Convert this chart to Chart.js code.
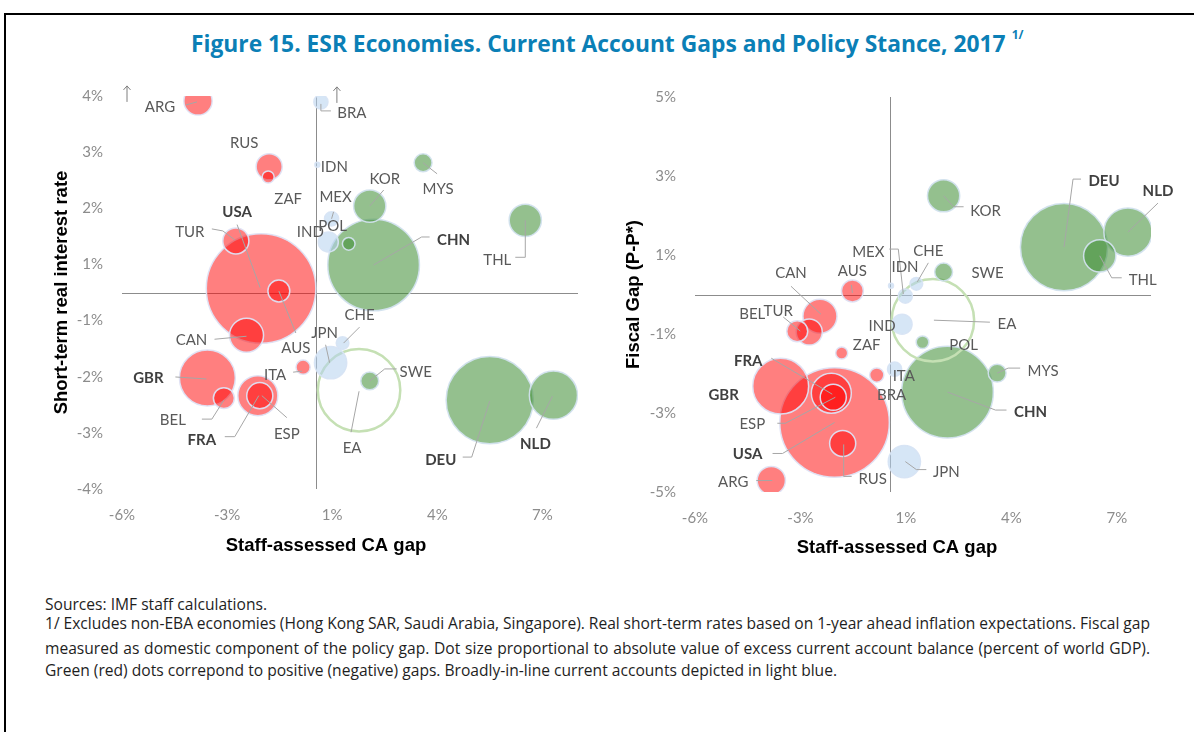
<!DOCTYPE html>
<html>
<head>
<meta charset="utf-8">
<script src="https://cdn.jsdelivr.net/npm/chart.js@4.4.0/dist/chart.umd.min.js"></script>
<style>
  body { margin: 0; background: #fff; width: 1194px; height: 732px; overflow: hidden; position: relative; }
  #frame { position: absolute; left: 4px; top: 13px; width: 1300px; height: 800px; border-left: 2px solid #000; border-top: 2px solid #000; }
  #title { position: absolute; left: 191px; top: 28px; font-family: 'Open Sans', sans-serif; font-weight: bold; font-size: 22.8px; color: #0b7fb6; white-space: nowrap; }
  #title sup { font-size: 12px; position: relative; top: -4px; margin-left: 6px; }
  .wrap { position: absolute; }
  .note { position: absolute; left: 45px; width: 1105px; font-family: 'Open Sans', sans-serif; font-size: 15.6px; color: #1e1e1e; white-space: nowrap; }
  .just { text-align: justify; text-align-last: justify; white-space: normal; word-spacing: -2px; }
</style>
</head>
<body>
<div id="frame"></div>
<div id="title">Figure 15. ESR Economies. Current Account Gaps and Policy Stance, 2017<sup>1/</sup></div>
<div class="wrap" style="left:0;top:60px;width:600px;height:520px"><canvas id="rateChart"></canvas></div>
<div class="wrap" style="left:600px;top:60px;width:594px;height:520px"><canvas id="fiscalChart"></canvas></div>
<div class="note" style="top:593px">Sources: IMF staff calculations.</div>
<div class="note just" style="top:612px">1/ Excludes non-EBA economies (Hong Kong SAR, Saudi Arabia, Singapore). Real short-term rates based on 1-year ahead inflation expectations. Fiscal gap</div>
<div class="note just" style="top:637px">measured as domestic component of the policy gap. Dot size proportional to absolute value of excess current account balance (percent of world GDP).</div>
<div class="note" style="top:659px">Green (red) dots correpond to positive (negative) gaps. Broadly-in-line current accounts depicted in light blue.</div>

<script>
// ---- data ----
const countries = ['ARG','AUS','BEL','BRA','CAN','CHE','CHN','DEU','EA','ESP','FRA','GBR','IDN','IND','ITA','JPN','KOR','MEX','MYS','NLD','POL','RUS','SWE','THL','TUR','USA','ZAF'];
// staff-assessed CA gap (% of GDP), shared x axis
const caGap = [-3.65,-1.15,-2.85,0.15,-2.15,0.82,1.78,5.37,1.33,-1.80,-1.74,-3.36,0.04,0.38,-0.40,0.45,1.66,0.48,3.31,7.34,1.01,-1.45,1.66,6.47,-2.48,-1.70,-1.48];
// short-term real interest rate (%)
const realRate = [3.90,0.03,-2.15,3.88,-0.87,-1.03,0.56,-2.19,-1.99,-2.10,-2.10,-1.74,2.60,1.03,-1.52,-1.43,1.76,1.50,2.64,-2.09,0.99,2.56,-1.80,1.47,1.05,0.08,2.35];
// fiscal gap, P-P* (%)
const fiscalGap = [-4.71,0.09,-0.93,-1.89,-0.55,0.27,-2.47,1.20,-0.65,-2.50,-2.60,-2.32,0.22,-0.75,-2.04,-4.23,2.50,-0.04,-1.99,1.58,-1.21,-3.77,0.57,0.98,-0.95,-3.24,-1.48];
// absolute excess current account balance (% of world GDP) -> dot size
const excessCA = [0.020,0.012,0.011,0.005,0.029,0.004,0.210,0.190,0.170,0.040,0.017,0.078,0.0006,0.010,0.005,0.026,0.026,0.005,0.008,0.058,0.004,0.017,0.008,0.026,0.017,0.300,0.0036];
// neg = red, pos = green, inline = light blue, area = euro area ring
const gapSign = ['neg','neg','neg','inline','neg','inline','pos','pos','area','neg','neg','neg','inline','inline','neg','inline','pos','inline','pos','pos','pos','neg','pos','pos','neg','neg','neg'];
const boldCodes = ['USA','CHN','GBR','FRA','DEU','NLD'];
const offScaleCodes = ['ARG','BRA']; // real rate above the 4% cut-off

const xTickValues = [-6, -2.75, 0.5, 3.75, 7];
const xTickLabels = ['-6%', '-3%', '1%', '4%', '7%'];
const rateTickValues = [-4, -2.857, -1.714, -0.571, 0.571, 1.714, 2.857, 4];
const rateTickLabels = ['-4%', '-3%', '-2%', '-1%', '1%', '2%', '3%', '4%'];
const fiscalTickValues = [-5, -3, -1, 1, 3, 5];
const fiscalTickLabels = ['-5%', '-3%', '-1%', '1%', '3%', '5%'];

// label placement, pixel offsets from the dot centre (text centre + leader polyline)
const rateLabels = {
  ARG: { at: [-38, 6], lead: [[-12, 4], [-1, 1]], arrow: [-71, -7] },
  BRA: { at: [31, 11], lead: [[0, 2], [0, 9], [10, 9]], arrow: [16, -7] },
  RUS: { at: [-25, -24] },
  ZAF: { at: [20, 22] },
  IDN: { at: [17, 2] },
  MEX: { at: [4, -22], lead: [[2, -7], [0, 0]] },
  POL: { at: [-16, -18] },
  IND: { at: [-18, -10] },
  KOR: { at: [15, -27], lead: [[0, 0], [14, -16]] },
  MYS: { at: [15, 26], lead: [[0, 0], [14, 11]] },
  CHN: { at: [80, -25], lead: [[0, 0], [48, -28], [56, -28]] },
  THL: { at: [-28, 40], lead: [[0, 0], [0, 37], [-10, 37]] },
  USA: { at: [-24, -76], lead: [[-24, -64], [-1, -1]] },
  TUR: { at: [-46, -9], lead: [[-24, -12], [-13, -10], [-1, -1]] },
  AUS: { at: [17, 57], lead: [[0, 0], [17, 42]] },
  CAN: { at: [-55, 5], lead: [[-32, 4], [0, 1]] },
  GBR: { at: [-59, 0], lead: [[-32, -1], [-1, 1]] },
  BEL: { at: [-51, 22], lead: [[-22, 21], [-12, 21], [0, 2]] },
  FRA: { at: [-58, 44], lead: [[-35, 41], [-25, 41], [-1, 0]] },
  ESP: { at: [29, 38], lead: [[4, 0], [29, 22]] },
  ITA: { at: [-28, 8], lead: [[-10, 5], [-1, 4]] },
  JPN: { at: [-6, -30], lead: [[-5, -18], [-1, 0]] },
  CHE: { at: [17, -28], lead: [[17, -16], [1, 0]] },
  EA:  { at: [-7, 58], lead: [[-8, 42], [0, 1]] },
  SWE: { at: [46, -9], lead: [[0, 0], [15, -12], [27, -12]] },
  DEU: { at: [-49, 60], lead: [[-27, 57], [-18, 57], [0, 1]] },
  NLD: { at: [-18, 49], lead: [[-17, 33], [-1, 1]] }
};
const fiscalLabels = {
  KOR: { at: [42, 15], lead: [[0, 0], [10, 11], [20, 11]] },
  DEU: { at: [40, -66], lead: [[0, 0], [9, -68], [17, -68]] },
  NLD: { at: [30, -41], lead: [[0, 0], [30, -29]] },
  THL: { at: [43, 24], lead: [[0, 0], [12, 22], [22, 22]] },
  SWE: { at: [44, 1] },
  CHE: { at: [12, -33], lead: [[12, -21], [1, -2]] },
  IDN: { at: [14, -19] },
  MEX: { at: [-37, -44], lead: [[-16, -47], [-7, -47], [-2, -2]] },
  EA:  { at: [74, 4], lead: [[1, 0], [57, 2]] },
  IND: { at: [-20, 2] },
  POL: { at: [41, 3] },
  MYS: { at: [46, -2], lead: [[0, 0], [11, -5], [23, -5]] },
  CHN: { at: [83, 20], lead: [[0, 0], [48, 18], [59, 18]] },
  JPN: { at: [42, 11], lead: [[1, 0], [12, 8], [22, 8]] },
  ITA: { at: [27, 1] },
  BRA: { at: [-3, 26] },
  ZAF: { at: [25, -8] },
  AUS: { at: [0, -20], lead: [[-1, -6], [0, 2]] },
  CAN: { at: [-29, -43], lead: [[-29, -30], [1, -2]] },
  BEL: { at: [-45, -17] },
  TUR: { at: [-31, -21], lead: [[-26, -15], [-9, -1]] },
  FRA: { at: [-85, -36], lead: [[-62, -39], [-1, -3]] },
  GBR: { at: [-57, 9] },
  ESP: { at: [-79, 31], lead: [[-54, 30], [-46, 30], [4, 4]] },
  USA: { at: [-87, 32], lead: [[-62, 31], [-52, 31], [0, 0]] },
  RUS: { at: [30, 36], lead: [[1, 1], [1, 33], [9, 33]] },
  ARG: { at: [-38, 2], lead: [[-15, 0], [1, 0]] }
};

const fillColors = { neg: 'rgba(255,0,0,0.5)', pos: 'rgba(60,140,50,0.55)', inline: 'rgba(180,210,238,0.55)', area: 'rgba(0,0,0,0)' };
const edgeColors = { neg: 'rgba(222,226,244,0.95)', pos: 'rgba(210,225,238,0.95)', inline: 'rgba(215,228,244,0.95)', area: '#c5e0b4' };

// zero lines under the dots, labels and leaders on top
const calloutPlugin = {
  id: 'callouts',
  beforeDatasetsDraw(chart) {
    const { ctx, chartArea, scales } = chart;
    const x0 = Math.round(scales.x.getPixelForValue(0)) + 0.5;
    const y0 = Math.round(scales.y.getPixelForValue(0)) + 0.5;
    ctx.save();
    ctx.strokeStyle = '#8c8c8c';
    ctx.lineWidth = 1;
    ctx.beginPath();
    ctx.moveTo(x0, chartArea.top);
    ctx.lineTo(x0, chartArea.bottom);
    ctx.moveTo(chartArea.left, y0);
    ctx.lineTo(chartArea.right, y0);
    ctx.stroke();
    ctx.restore();
  },
  afterDatasetsDraw(chart, args, opts) {
    const { ctx } = chart;
    const meta = chart.getDatasetMeta(0);
    ctx.save();
    meta.data.forEach((el, i) => {
      const code = chart.data.datasets[0].data[i].code;
      const plan = opts.plan[code];
      if (!plan) return;
      if (plan.lead) {
        ctx.strokeStyle = '#a6a6a6';
        ctx.lineWidth = 1;
        ctx.beginPath();
        plan.lead.forEach((p, k) => {
          if (k === 0) ctx.moveTo(el.x + p[0], el.y + p[1]);
          else ctx.lineTo(el.x + p[0], el.y + p[1]);
        });
        ctx.stroke();
      }
      if (plan.arrow && opts.showArrows && offScaleCodes.includes(code)) {
        const ax = el.x + plan.arrow[0], ay = el.y + plan.arrow[1];
        ctx.strokeStyle = '#7f7f7f';
        ctx.beginPath();
        ctx.moveTo(ax, ay + 8);
        ctx.lineTo(ax, ay - 8);
        ctx.moveTo(ax - 3.5, ay - 4);
        ctx.lineTo(ax, ay - 8);
        ctx.lineTo(ax + 3.5, ay - 4);
        ctx.stroke();
      }
      const bold = boldCodes.includes(code);
      ctx.font = (bold ? 'bold ' : '') + '15px Lato';
      ctx.fillStyle = bold ? '#404040' : '#595959';
      ctx.textAlign = 'center';
      ctx.textBaseline = 'middle';
      ctx.fillText(code, el.x + plan.at[0], el.y + plan.at[1]);
    });
    ctx.restore();
  },
  afterDraw(chart, args, opts) {
    const { ctx, chartArea } = chart;
    ctx.save();
    ctx.font = 'bold 18.5px "Liberation Sans"';
    ctx.fillStyle = '#000';
    ctx.textAlign = 'center';
    ctx.textBaseline = 'middle';
    ctx.fillText('Staff-assessed CA gap', chartArea.left + opts.captionDx, opts.captionY);
    ctx.restore();
  }
};

function buildChart(canvasId, yValues, yTickValues, yTickLabels, yTitle, yRange, xMax, box, plan, showArrows) {
  const points = countries.map((c, i) => ({
    x: caGap[i], y: yValues[i], r: 100 * Math.sqrt(excessCA[i]), code: c, kind: gapSign[i]
  })).sort((a, b) => b.r - a.r);

  return new Chart(document.getElementById(canvasId), {
    type: 'bubble',
    data: {
      datasets: [{
        data: points,
        backgroundColor: ctx => fillColors[ctx.raw.kind],
        borderColor: ctx => edgeColors[ctx.raw.kind],
        borderWidth: ctx => ctx.raw.kind === 'area' ? 2.5 : 1.5,
        clip: 0
      }]
    },
    options: {
      responsive: true,
      maintainAspectRatio: false,
      animation: false,
      events: [],
      layout: { autoPadding: false, padding: box.padding },
      plugins: {
        legend: { display: false },
        tooltip: { enabled: false },
        callouts: { plan: plan, showArrows: showArrows, captionDx: box.captionDx, captionY: box.captionY }
      },
      scales: {
        x: {
          type: 'linear', min: -6, max: xMax,
          grid: { display: false, drawTicks: false },
          border: { display: false },
          afterBuildTicks: s => { s.ticks = xTickValues.map(v => ({ value: v })); },
          afterFit: s => { s.height = box.xHeight; },
          ticks: {
            autoSkip: false, maxRotation: 0, padding: 17,
            color: '#8c8c8c', font: { family: 'Lato', size: 15 },
            callback: (v, i) => xTickLabels[i]
          }
        },
        y: {
          type: 'linear', min: yRange[0], max: yRange[1],
          grid: { display: false, drawTicks: false },
          border: { display: false },
          afterBuildTicks: s => { s.ticks = yTickValues.map(v => ({ value: v })); },
          afterFit: s => { s.width = box.yWidth; },
          title: {
            display: true, text: yTitle, color: '#000',
            font: { family: 'Liberation Sans', size: 18.5, weight: 'bold' },
            padding: { top: box.yTitlePad, bottom: 0 }
          },
          ticks: {
            autoSkip: false, padding: 19,
            color: '#8c8c8c', font: { family: 'Lato', size: 15 },
            callback: (v, i) => yTickLabels[i]
          }
        }
      }
    },
    plugins: [calloutPlugin]
  });
}

document.addEventListener('DOMContentLoaded', function () {
  buildChart('rateChart', realRate, rateTickValues, rateTickLabels, 'Short-term real interest rate',
    [-4, 4], 8.1,
    { padding: { left: 30, top: 36, right: 22, bottom: 0 }, yWidth: 92, xHeight: 91, yTitlePad: 20.5, captionDx: 204, captionY: 486 },
    rateLabels, true);
  buildChart('fiscalChart', fiscalGap, fiscalTickValues, fiscalTickLabels, 'Fiscal Gap (P-P*)',
    [-5, 5], 8.05,
    { padding: { left: 10, top: 37, right: 43, bottom: 0 }, yWidth: 85, xHeight: 88, yTitlePad: 12.5, captionDx: 202, captionY: 488 },
    fiscalLabels, false);
});
</script>
</body>
</html>
